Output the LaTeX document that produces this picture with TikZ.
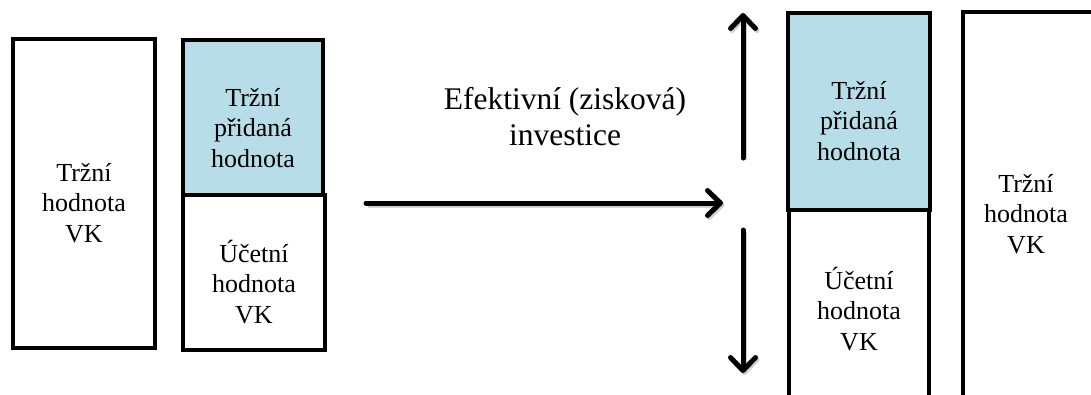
\documentclass[tikz,border=0pt]{standalone}
\usepackage{fontspec}
\setmainfont{Liberation Serif}
\usetikzlibrary{arrows.meta}
\definecolor{mvablue}{RGB}{183,221,232}
\tikzset{
  box/.style={draw=black, line width=4pt, fill=white, inner sep=0pt},
  bluebox/.style={box, fill=mvablue},
  thinbox/.style={draw=black, line width=3.2pt, fill=white, inner sep=0pt},
  txt/.style={font=\fontsize{26}{30.5}\selectfont, align=center, inner sep=0pt},
  ttl/.style={font=\fontsize{31.5}{36}\selectfont, align=center, inner sep=0pt},
  arr/.style={line width=5pt, line cap=round,
    preaction={draw=black!18, line width=5pt, transform canvas={shift={(1.5pt,-2pt)}},
      -{Straight Barb[length=13pt,width=25pt,round]}},
    -{Straight Barb[length=13pt,width=25pt,round]}}
}
\begin{document}
\begin{tikzpicture}[x=1pt,y=-1pt]
\useasboundingbox (0,0) rectangle (1091,394);
\fill[white] (0,0) rectangle (1091,394);
\begin{scope}
\clip (0,0) rectangle (1091,394);
% left column
\node[box, minimum width=142pt, minimum height=309pt] (b1) at (84,193.5) {};
\node[txt] (t1) at (84,203) {Tržní\\hodnota\\VK};
% second column
\node[box, minimum width=142pt, minimum height=155pt] (b3) at (254,272.5) {};
\node[bluebox, minimum width=140pt, minimum height=155pt] (b2) at (253,117.5) {};
\node[txt] (t2) at (253,128) {Tržní\\přidaná\\hodnota};
\node[txt] (t3) at (254,282) {Účetní\\hodnota\\VK};
% right side
\node[thinbox, minimum width=140pt, minimum height=230pt] (b5) at (859,325) {};
\node[bluebox, line width=3.6pt, minimum width=142pt, minimum height=197pt] (b4) at (859,111.5) {};
\node[txt] (t4) at (859,121) {Tržní\\přidaná\\hodnota};
\node[txt] (t5) at (859,309) {Účetní\\hodnota\\VK};
\node[thinbox, minimum width=160pt, minimum height=420pt] (b6) at (1043,222) {};
\node[txt] (t6) at (1026,214) {Tržní\\hodnota\\VK};
% title
\node[ttl, anchor=base] (ttl) at (565,145) {Efektivní (zisková)\\investice};
% arrows
\coordinate (hs) at (366,203);
\coordinate (he) at (723,203);
\coordinate (us) at (743,158);
\coordinate (ue) at (743,13);
\coordinate (ds) at (743,230);
\coordinate (de) at (743,373);
\draw[arr] (hs) -- (he);
\draw[arr] (us) -- (ue);
\draw[arr] (ds) -- (de);
\end{scope}
\end{tikzpicture}
\end{document}
